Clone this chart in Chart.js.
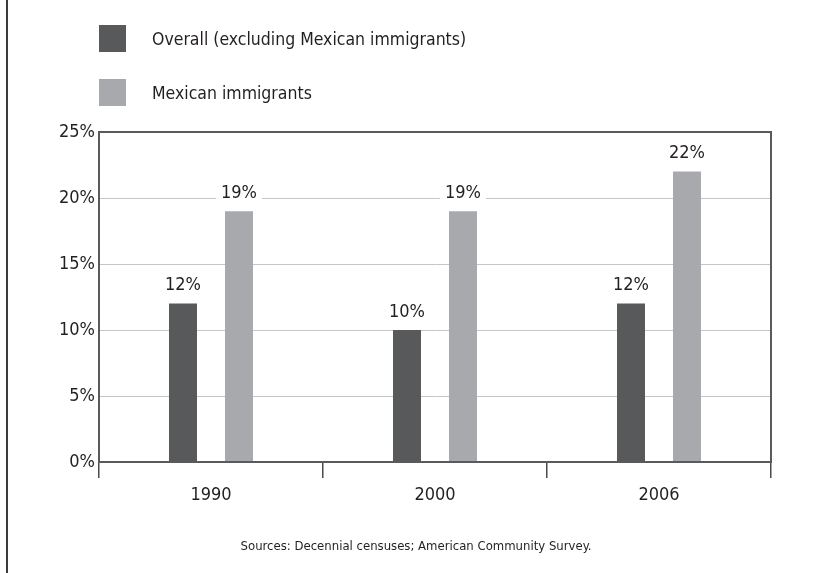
<!DOCTYPE html>
<html>
<head>
<meta charset="utf-8">
<script src="https://cdn.jsdelivr.net/npm/chart.js@4/dist/chart.umd.min.js"></script>
<style>
  html, body { margin: 0; padding: 0; background: #fff; }
  body { width: 817px; height: 573px; position: relative; overflow: hidden;
         font-family: "DejaVu Sans Condensed", "Liberation Sans Narrow", sans-serif; color: #231f20; }
  #rule { position: absolute; left: 6px; top: 0; width: 2px; height: 573px; background: #3c3c3c; }
  #chart { position: absolute; left: 0; top: 0; }
  .key { position: absolute; left: 99px; width: 27px; height: 27px; }
  .keytext { position: absolute; left: 152px; font-size: 17.5px; line-height: 24px; }
  #source { position: absolute; left: 0; width: 832px; top: 538px; text-align: center; font-size: 13px; line-height: 16px; }
</style>
</head>
<body>
<div id="rule"></div>
<canvas id="chart" width="817" height="573"></canvas>
<div class="key" style="top:25px;background:#58595b"></div>
<div class="keytext" style="top:27px">Overall (excluding Mexican immigrants)</div>
<div class="key" style="top:79px;background:#a7a9ac"></div>
<div class="keytext" style="top:81px">Mexican immigrants</div>
<div id="source">Sources: Decennial censuses; American Community Survey.</div>
<script>
const anos = ['1990', '2000', '2006'];
const general = [12, 10, 12];
const mexicanos = [19, 19, 22];
const marcasY = [0, 5, 10, 15, 20, 25];

const fuente = '"DejaVu Sans Condensed", "Liberation Sans Narrow", sans-serif';

// marco oscuro alrededor del area y etiquetas con fondo blanco sobre cada barra
const marcoYEtiquetas = {
  id: 'marcoYEtiquetas',
  afterDatasetsDraw(chart) {
    const ctx = chart.ctx;
    const a = chart.chartArea;
    ctx.save();
    ctx.strokeStyle = '#5a5a5a';
    ctx.lineWidth = 2;
    ctx.strokeRect(a.left, a.top, a.right - a.left, a.bottom - a.top);

    ctx.font = '18px ' + fuente;
    ctx.textAlign = 'center';
    ctx.textBaseline = 'middle';
    chart.data.datasets.forEach((ds, i) => {
      chart.getDatasetMeta(i).data.forEach((barra, j) => {
        const txt = ds.data[j] + '%';
        const w = ctx.measureText(txt).width + 10;
        const y = barra.y - 18;
        ctx.fillStyle = '#fff';
        ctx.fillRect(barra.x - w / 2, y - 11, w, 22);
        ctx.fillStyle = '#231f20';
        ctx.fillText(txt, barra.x, y);
      });
    });
    ctx.restore();
  }
};

new Chart(document.getElementById('chart'), {
  type: 'bar',
  data: {
    labels: anos,
    datasets: [
      { label: 'Overall (excluding Mexican immigrants)', data: general, backgroundColor: '#58595b' },
      { label: 'Mexican immigrants', data: mexicanos, backgroundColor: '#a7a9ac' }
    ]
  },
  options: {
    responsive: false,
    animation: false,
    layout: { padding: { left: 0, right: 46, top: 132, bottom: 0 } },
    datasets: { bar: { categoryPercentage: 0.5, barPercentage: 0.5 } },
    plugins: { legend: { display: false }, tooltip: { enabled: false } },
    scales: {
      x: {
        afterFit(s) { s.height = 111; },
        grid: { offset: true, drawOnChartArea: false, tickLength: 16, color: '#4a4a4a', lineWidth: 1.5 },
        border: { color: '#5a5a5a', width: 2 },
        ticks: { color: '#231f20', font: { family: fuente, size: 18 }, padding: 7 }
      },
      y: {
        min: 0,
        max: 25,
        afterFit(s) { s.width = 99; },
        afterBuildTicks(s) { s.ticks = marcasY.map(v => ({ value: v })); },
        grid: { drawTicks: false, color: '#c4c5c7', lineWidth: 1 },
        border: { color: '#5a5a5a', width: 2 },
        ticks: { color: '#231f20', font: { family: fuente, size: 18 }, padding: 4, callback: v => v + '%' }
      }
    }
  },
  plugins: [marcoYEtiquetas]
});
</script>
</body>
</html>
